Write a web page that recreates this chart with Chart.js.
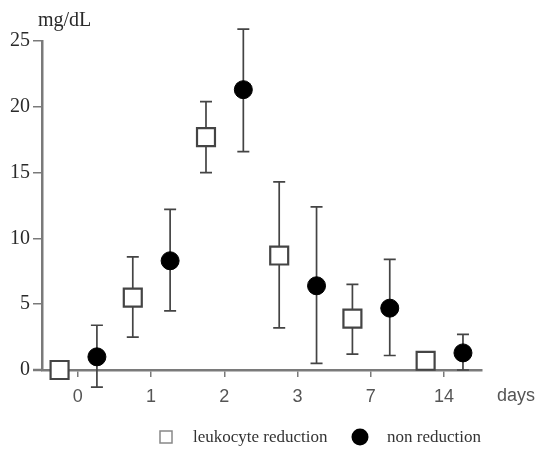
<!DOCTYPE html>
<html>
<head>
<meta charset="utf-8">
<script src="https://cdn.jsdelivr.net/npm/chart.js@4.4.1/dist/chart.umd.min.js"></script>
<style>
  html, body { margin: 0; padding: 0; background: #fff; }
  #wrap { width: 539px; height: 449px; }
</style>
</head>
<body>
<div id="wrap"><canvas id="chart"></canvas></div>
<script>
// days
const dayLabels = ['0', '1', '2', '3', '7', '14'];

// leukocyte reduction: mean and error bar ends (mg/dL)
const leukMean = [0, 5.5, 17.7, 8.7, 3.9, 0.7];
const leukLow  = [0, 2.5, 15.0, 3.2, 1.2, 0.7];
const leukHigh = [0, 8.6, 20.4, 14.3, 6.5, 0.7];

// non reduction
const nonMean = [1.0, 8.3, 21.3, 6.4, 4.7, 1.3];
const nonLow  = [-1.3, 4.5, 16.6, 0.5, 1.1, 0];
const nonHigh = [3.4, 12.2, 25.9, 12.4, 8.4, 2.7];

const AXIS = '#7a7a7a';
const INK = '#444';

// vertical bars with caps, behind the markers
const errorBars = {
    id: 'errorBars',
    beforeDatasetsDraw(chart) {
        const { ctx, scales: { x, y } } = chart;
        ctx.save();
        ctx.strokeStyle = INK;
        ctx.lineWidth = 1.7;
        chart.data.datasets.forEach(ds => {
            ds.data.forEach((p, i) => {
                const lo = ds.errLow[i], hi = ds.errHigh[i];
                if (lo === hi) return;
                const px = x.getPixelForValue(p.x);
                const pLo = y.getPixelForValue(lo);
                const pHi = y.getPixelForValue(hi);
                ctx.beginPath();
                ctx.moveTo(px, pLo); ctx.lineTo(px, pHi);
                ctx.moveTo(px - 6, pLo); ctx.lineTo(px + 6, pLo);
                ctx.moveTo(px - 6, pHi); ctx.lineTo(px + 6, pHi);
                ctx.stroke();
            });
        });
        ctx.restore();
    }
};

// unit labels, axis stub and the legend
const extras = {
    id: 'extras',
    afterDraw(chart) {
        const { ctx, chartArea: a } = chart;
        ctx.save();
        // x axis runs a little past the y axis
        ctx.strokeStyle = AXIS;
        ctx.lineWidth = 2.5;
        ctx.beginPath();
        ctx.moveTo(a.left - 9, a.bottom);
        ctx.lineTo(a.left, a.bottom);
        ctx.stroke();

        ctx.fillStyle = '#2a2a2a';
        ctx.textBaseline = 'middle';
        ctx.font = '20px "Liberation Serif"';
        ctx.fillText('mg/dL', 38, 21);
        ctx.fillStyle = '#555';
        ctx.font = '18px "Liberation Sans"';
        ctx.fillText('days', 497, 396);

        // legend
        const ds = chart.data.datasets;
        ctx.font = '17px "Liberation Serif"';
        ctx.fillStyle = '#333';
        ctx.strokeStyle = '#888';
        ctx.lineWidth = 1.5;
        ctx.strokeRect(160, 431, 12, 12);
        ctx.fillText(ds[0].label, 193, 438);
        ctx.fillStyle = '#000';
        ctx.beginPath();
        ctx.arc(360, 437, 8.5, 0, Math.PI * 2);
        ctx.fill();
        ctx.fillStyle = '#333';
        ctx.fillText(ds[1].label, 387, 438);
        ctx.restore();
    }
};

new Chart(document.getElementById('chart'), {
    type: 'scatter',
    data: {
        datasets: [{
            label: 'leukocyte reduction',
            data: leukMean.map((v, i) => ({ x: i - 0.25, y: v })),
            errLow: leukLow,
            errHigh: leukHigh,
            pointStyle: 'rect',
            pointRadius: 12.7,
            pointHoverRadius: 12.7,
            pointBackgroundColor: '#fff',
            pointBorderColor: INK,
            pointBorderWidth: 2.2,
            clip: false
        }, {
            label: 'non reduction',
            data: nonMean.map((v, i) => ({ x: i + 0.26, y: v })),
            errLow: nonLow,
            errHigh: nonHigh,
            pointStyle: 'circle',
            pointRadius: 9,
            pointHoverRadius: 9,
            pointBackgroundColor: '#000',
            pointBorderColor: '#000',
            pointBorderWidth: 1,
            clip: false
        }]
    },
    options: {
        responsive: true,
        maintainAspectRatio: false,
        animation: false,
        layout: { padding: { top: 41, right: 57, bottom: 0, left: 0 } },
        plugins: {
            legend: { display: false },
            tooltip: { enabled: false }
        },
        scales: {
            x: {
                type: 'linear',
                min: -0.49,
                max: 5.52,
                afterFit: s => { s.height = 79; },
                afterBuildTicks: s => { s.ticks = dayLabels.map((_, i) => ({ value: i })); },
                border: { color: AXIS, width: 2.5 },
                grid: { drawOnChartArea: false, color: AXIS, lineWidth: 1.5, tickLength: 7 },
                ticks: {
                    callback: v => dayLabels[v],
                    color: '#555',
                    padding: 9,
                    maxRotation: 0,
                    font: { family: 'Liberation Sans', size: 18 }
                }
            },
            y: {
                min: 0,
                max: 25,
                afterFit: s => { s.width = 42; },
                border: { color: AXIS, width: 2.5 },
                grid: { drawOnChartArea: false, color: AXIS, lineWidth: 1.5, tickLength: 9 },
                ticks: {
                    stepSize: 5,
                    color: '#2a2a2a',
                    padding: 3,
                    font: { family: 'Liberation Serif', size: 20 }
                }
            }
        }
    },
    plugins: [errorBars, extras]
});
</script>
</body>
</html>
